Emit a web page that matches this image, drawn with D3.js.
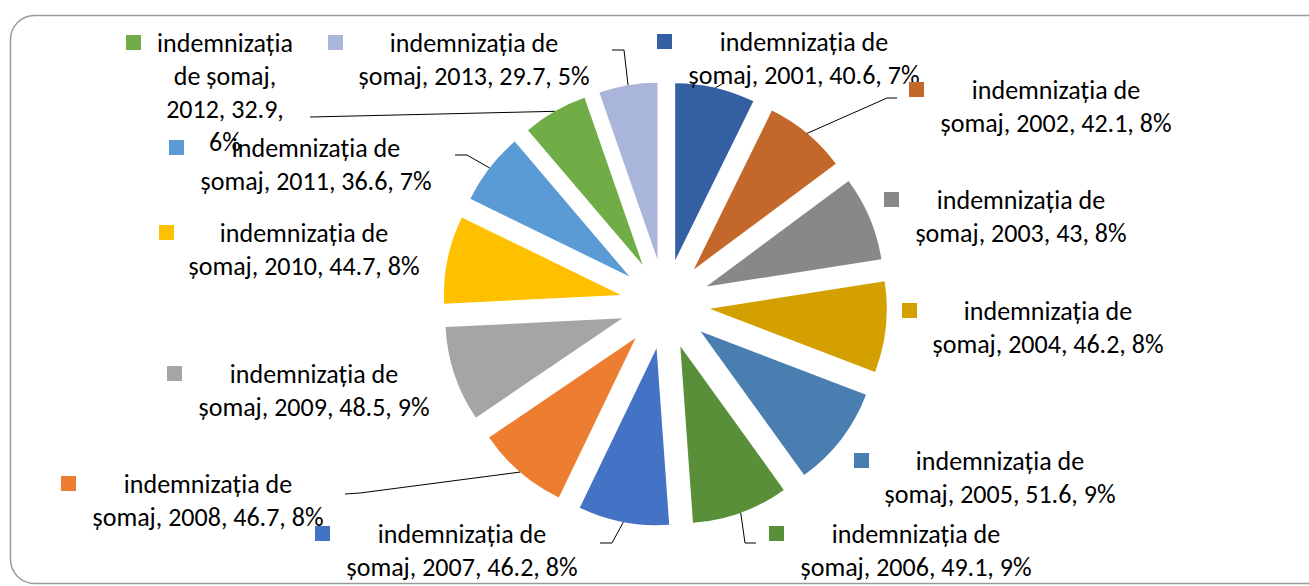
<!DOCTYPE html>
<html lang="ro">
<head>
  <meta charset="UTF-8">
  <title>Indemnizaţia de şomaj 2001-2013</title>
  <script src="https://d3js.org/d3.v7.min.js"></script>
  <style>
    body { margin: 0; background: #fff; }
    .lbl text {
      font-family: Carlito, Calibri, Lato, sans-serif;
      font-size: 26px;
      fill: #000;
      text-anchor: middle;
    }
    .leader {
      fill: none;
      stroke: #000;
      stroke-width: 1;
    }
  </style>
</head>
<body>
<svg width="1309" height="586"></svg>

<script>
  // data
  const years = ["2001", "2002", "2003", "2004", "2005", "2006", "2007",
                 "2008", "2009", "2010", "2011", "2012", "2013"];
  const values = [40.6, 42.1, 43, 46.2, 51.6, 49.1, 46.2, 46.7, 48.5, 44.7, 36.6, 32.9, 29.7];
  const percents = ["7%", "8%", "8%", "8%", "9%", "9%", "8%", "8%", "9%", "8%", "7%", "6%", "5%"];

  const colors = ["#355FA3", "#C4672A", "#888888", "#D3A000", "#4A7EB0", "#5A8F3A", "#4472C4",
                  "#ED7D31", "#A5A5A5", "#FFC000", "#5B9BD5", "#70AD47", "#A9B5DA"];

  const width = 1309;
  const height = 586;
  const cx = 665, cy = 304;
  const radius = 177;
  const explode = 45;

  // label layout: text centre, first baseline, marker position, leader bends
  const labelLayout = {
    "2001": {x: 804, y: 51, mx: 657, my: 34, bend: [[722, 84]]},
    "2002": {x: 1056, y: 99, mx: 909, my: 82, bend: [[887, 98], [897, 98]]},
    "2003": {x: 1021, y: 209, mx: 884, my: 192, bend: null},
    "2004": {x: 1048, y: 320, mx: 902, my: 303, bend: null},
    "2005": {x: 1000, y: 470, mx: 854, my: 453, bend: null},
    "2006": {x: 916, y: 543, mx: 769, my: 526, bend: [[745, 543], [756, 543]]},
    "2007": {x: 462, y: 543, mx: 315, my: 526, bend: [[612, 543], [600, 543]]},
    "2008": {x: 208, y: 493, mx: 61, my: 476, bend: [[360, 493], [345, 494]]},
    "2009": {x: 314, y: 383, mx: 167, my: 366, bend: null},
    "2010": {x: 304, y: 242, mx: 159, my: 225, bend: null},
    "2011": {x: 316, y: 157, mx: 169, my: 140, bend: [[467, 155], [455, 155]]},
    "2012": {x: 225, y: 52, mx: 126, my: 35, bend: [[310, 117]], wrap: true},
    "2013": {x: 474, y: 52, mx: 328, my: 35, bend: [[624, 50], [612, 50]]}
  };

  const data = years.map((y, i) => ({year: y, value: values[i], pct: percents[i], color: colors[i]}));

  const svg = d3.select("svg")
          .attr("width", width)
          .attr("height", height);

  // chart border
  svg.append("rect")
          .attr("x", 10.5)
          .attr("y", 15.5)
          .attr("width", 1320)
          .attr("height", 568)
          .attr("rx", 24)
          .attr("fill", "#fff")
          .attr("stroke", "#9a9a9a")
          .attr("stroke-width", 1.5);

  const pie = d3.pie()
          .sort(null)
          .value(d => d.value);

  const arc = d3.arc()
          .innerRadius(0)
          .outerRadius(radius);

  const arcs = pie(data);

  const g = svg.append("g")
          .attr("transform", `translate(${cx},${cy})`);

  function midAngle(d) {
    return (d.startAngle + d.endAngle) / 2;
  }

  g.selectAll(".slice")
          .data(arcs)
          .enter()
          .append("path")
          .attr("class", "slice")
          .attr("d", arc)
          .attr("fill", d => d.data.color)
          .attr("transform", d => {
            const a = midAngle(d);
            return `translate(${explode * Math.sin(a)},${-explode * Math.cos(a)})`;
          });

  // leader lines from the slice's outer edge to the label
  arcs.forEach(d => {
    const lay = labelLayout[d.data.year];
    if (!lay.bend) return;
    const a = midAngle(d);
    const r = radius + explode;
    const pts = [[cx + r * Math.sin(a), cy - r * Math.cos(a)]].concat(lay.bend);
    svg.append("path")
            .attr("class", "leader")
            .attr("d", d3.line()(pts));
  });

  // labels
  const lineH = 33;
  arcs.forEach(d => {
    const lay = labelLayout[d.data.year];
    const lg = svg.append("g").attr("class", "lbl");
    lg.append("rect")
            .attr("x", lay.mx)
            .attr("y", lay.my)
            .attr("width", 15)
            .attr("height", 15)
            .attr("fill", d.data.color);
    const lines = lay.wrap
            ? ["indemniza\u0163ia", "de \u015Fomaj,", `${d.data.year}, ${d.data.value},`, d.data.pct]
            : ["indemniza\u0163ia de", `\u015Fomaj, ${d.data.year}, ${d.data.value}, ${d.data.pct}`];
    lines.forEach((t, i) => {
      lg.append("text")
              .attr("x", lay.x)
              .attr("y", lay.y + i * lineH)
              .text(t);
    });
  });
</script>
</body>
</html>
